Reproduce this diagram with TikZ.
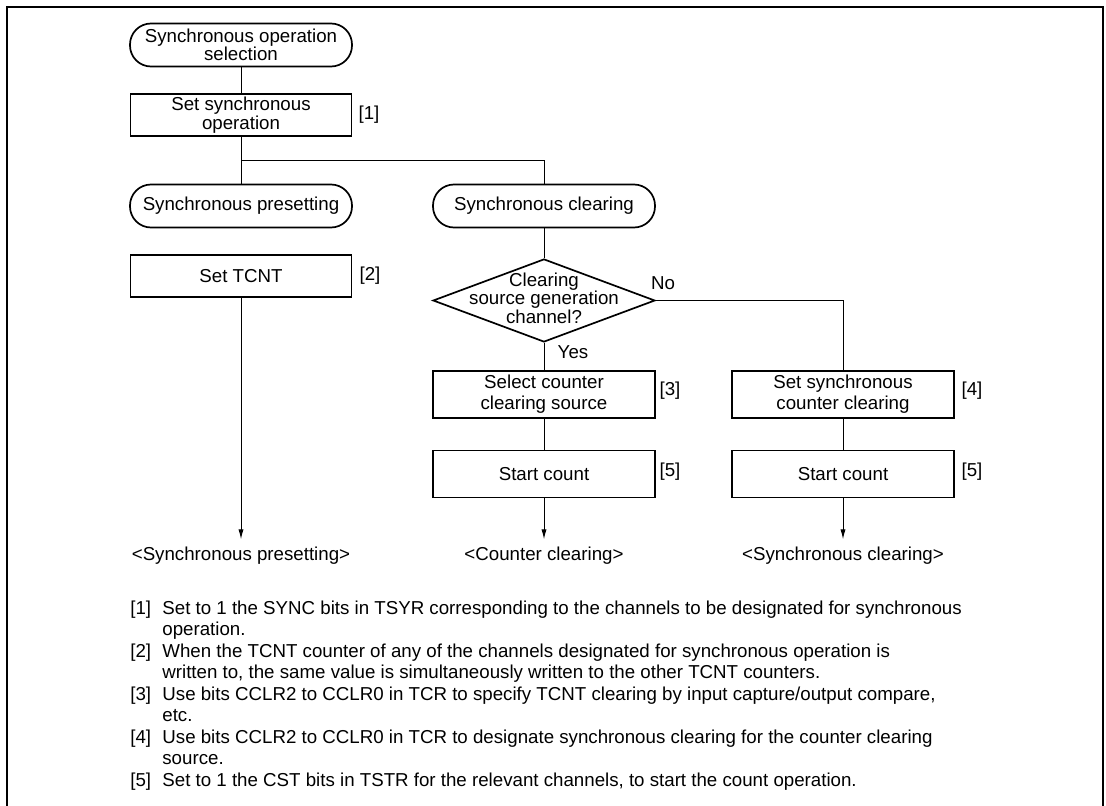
\documentclass[tikz,border=0pt]{standalone}
\usepackage{fontspec}
\setmainfont{Liberation Sans}
\usepackage{tikz}
\usetikzlibrary{shapes.geometric,arrows.meta}

\newcommand\flowfont{\fontsize{9.35bp}{9.2bp}\selectfont}
\newcommand\widefont{\fontsize{9.35bp}{10.5bp}\selectfont}
\newcommand\notefont{\fontsize{9.35bp}{10.75bp}\selectfont}

\tikzset{
  terminal/.style={draw, line width=0.85bp, rounded corners=10.5bp, align=center,
    minimum width=111bp, minimum height=21.5bp, inner sep=0pt, font=\flowfont},
  stepbox/.style={draw, line width=0.85bp, align=center, minimum width=110.5bp,
    minimum height=21bp, inner sep=0pt, font=\flowfont},
  tallbox/.style={stepbox, minimum width=111bp, minimum height=23.5bp, font=\widefont},
  decision/.style={draw, line width=0.85bp, shape=diamond, minimum width=111bp,
    minimum height=41.5bp, inner sep=0pt},
  tag/.style={font=\flowfont, inner sep=0pt},
  result/.style={font=\flowfont, inner sep=0pt, outer sep=4bp},
  note/.style={anchor=base west, inner sep=0pt, font=\notefont, align=left},
  conn/.style={line width=0.5bp},
  flowarrow/.style={conn, -{Latex[length=5bp,width=2.6bp]}}
}

\begin{document}
\begin{tikzpicture}[x=0.5bp,y=-0.5bp]
 \useasboundingbox (0,0) rectangle (1106,806);
 \draw[line width=1bp] (7,806) -- (7,7) -- (1103,7) -- (1103,806);

 % flow
 \node[terminal] (start) at (241,45) {Synchronous operation\\selection};
 \node[stepbox] (setsync) at (241,115) {Set synchronous\\operation};
 \node[tag] (t1) at (369,115) {[1]};
 \coordinate (fork) at (241,160);
 \node[terminal] (presetT) at (241,206) {Synchronous presetting};
 \node[terminal] (clearT) at (544,206) {Synchronous clearing};
 \node[stepbox] (settcnt) at (241,276) {Set TCNT};
 \node[tag] (t2) at (370,276) {[2]};

 \node[decision] (dec) at (544,300.5) {};
 \node[tag, align=center] (dectext) at (544,298) {Clearing\\source generation\\channel?};
 \node[tag] (no) at (663,283) {No};
 \node[tag] (yes) at (573,352) {Yes};

 \node[tallbox] (selsrc) at (544,394.5) {Select counter\\clearing source};
 \node[tag] (t3) at (670,391) {[3]};
 \node[tallbox] (setclr) at (843,394.5) {Set synchronous\\counter clearing};
 \node[tag] (t4) at (972,391) {[4]};
 \node[tallbox] (cnt1) at (544,474) {Start count};
 \node[tag] (t5a) at (670,472) {[5]};
 \node[tallbox] (cnt2) at (843,474) {Start count};
 \node[tag] (t5b) at (972,472) {[5]};

 \node[result] (pres) at (241,556) {<Synchronous presetting>};
 \node[result] (cclr) at (544,556) {<Counter clearing>};
 \node[result] (sclr) at (843,556) {<Synchronous clearing>};

 \draw[conn] (start) -- (setsync);
 \draw[conn] (setsync) -- (presetT);
 \draw[conn] (fork) -| (clearT.north);
 \draw[conn] (clearT) -- (dec);
 \draw[conn] (dec) -- (selsrc);
 \draw[conn] (dec.east) -| (setclr.north);
 \draw[conn] (selsrc) -- (cnt1);
 \draw[conn] (setclr) -- (cnt2);
 \draw[flowarrow] (settcnt) -- (pres);
 \draw[flowarrow] (cnt1) -- (cclr);
 \draw[flowarrow] (cnt2) -- (sclr);

 % notes
 \node[note] (n1) at (130,614) {[1]};
 \node[note] (m1) at (162,635.5)
   {Set to 1 the SYNC bits in TSYR corresponding to the channels to be designated for synchronous\\operation.};
 \node[note] (n2) at (130,657) {[2]};
 \node[note] (m2) at (162,678.5)
   {When the TCNT counter of any of the channels designated for synchronous operation is\\written to, the same value is simultaneously written to the other TCNT counters.};
 \node[note] (n3) at (130,700) {[3]};
 \node[note] (m3) at (162,721.5)
   {Use bits CCLR2 to CCLR0 in TCR to specify TCNT clearing by input capture/output compare,\\etc.};
 \node[note] (n4) at (130,743) {[4]};
 \node[note] (m4) at (162,764.5)
   {Use bits CCLR2 to CCLR0 in TCR to designate synchronous clearing for the counter clearing\\source.};
 \node[note] (n5) at (130,786) {[5]};
 \node[note] (m5) at (162,786)
   {Set to 1 the CST bits in TSTR for the relevant channels, to start the count operation.};
\end{tikzpicture}
\end{document}
